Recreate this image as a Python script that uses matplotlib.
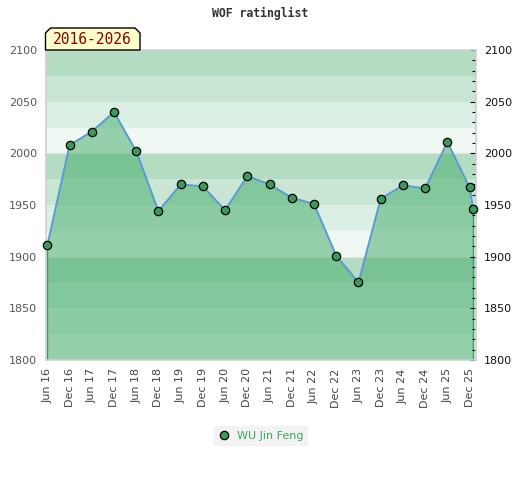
"""WOF ratinglist chart: rating history with banded background."""

import matplotlib

matplotlib.use("Agg")
import matplotlib.pyplot as plt
from matplotlib.patches import Polygon
import pandas as pd

title = "WOF ratinglist"
period = "2016-2026"
player = "WU Jin Feng"

dates = [
    "2016-06", "2016-12", "2017-06", "2017-12", "2018-06", "2018-12",
    "2019-06", "2019-12", "2020-06", "2020-12", "2021-06", "2021-12",
    "2022-06", "2022-12", "2023-06", "2023-12", "2024-06", "2024-12",
    "2025-06", "2025-12", "2026-01",
]
ratings = [
    1911, 2008, 2021, 2040, 2002, 1944, 1970, 1968, 1945, 1978, 1970,
    1957, 1951, 1901, 1875, 1956, 1969, 1966, 2011, 1967, 1946,
]
tick_dates = dates[:-1]
tick_labels = [pd.Timestamp(d).strftime("%b %y") for d in tick_dates]


def month_index(d):
    t = pd.Timestamp(d)
    return (t.year - 2016) * 12 + t.month - 6


x = [month_index(d) for d in dates]
xt = [month_index(d) for d in tick_dates]

y_min, y_max = 1800, 2100
band_colors = ["#eff8f3", "#dcefe4", "#c8e6d3", "#b3dcc2"]
fill_color = (70 / 255, 173 / 255, 107 / 255, 0.53)
marker_color = "#3a9a5b"
line_color = "#5b9bd5"

fig = plt.figure(figsize=(5.2, 4.8), dpi=100)
ax = fig.add_axes([45.5 / 520, 120 / 480, 430 / 520, 310 / 480])

# background bands, 25 points each, repeating per 100
for i, lo in enumerate(range(y_min, y_max, 25)):
    ax.axhspan(lo, lo + 25, color=band_colors[i % 4], lw=0, zorder=0)
for lvl in (1900, 2000):
    ax.axhline(lvl, color="#e4e4e4", lw=0.8, zorder=0.5)

ax.fill_between(x, ratings, y_min, facecolor=fill_color, edgecolor="none", zorder=1)
ax.vlines([x[0], x[-1]], y_min, [ratings[0], ratings[-1]], color=marker_color, lw=1, zorder=1.5)
ax.plot(x, ratings, color=line_color, lw=1.4, zorder=2)
ax.plot(x, ratings, "o", ms=6, mfc=marker_color, mec="black", mew=0.9, zorder=3,
        label=player, clip_on=False)

ax.set_xlim(-0.5, 115.6)
ax.set_ylim(y_min, y_max)

ax.set_xticks(xt)
ax.set_xticklabels(tick_labels, rotation=90, fontsize=8, color="#444444",
                   family="DejaVu Sans")
ax.tick_params(axis="x", length=0, pad=6)

ax.set_yticks(range(y_min, y_max + 1, 50))
ax.set_yticks(range(y_min, y_max + 1, 10), minor=True)
ax.tick_params(axis="y", which="both", direction="in", left=False, right=True,
               labelleft=True, labelright=True, labelsize=8, pad=6)
ax.tick_params(axis="y", which="major", length=4, width=0.8)
ax.tick_params(axis="y", which="minor", length=3, width=0.8)
for lab in ax.get_yticklabels():
    lab.set_color("#555555")
ax.yaxis.set_tick_params(labelcolor="#555555")
for t in ax.yaxis.get_major_ticks():
    t.label2.set_color("#111111")

for s in ax.spines.values():
    s.set_color("#d0d0d0")
    s.set_linewidth(1.2)

fig.text(0.5, 1 - 13 / 480, title, ha="center", va="center", fontsize=8.3,
         family="DejaVu Sans Mono", weight="bold", color="#333333")

# period label box with chamfered top corners
bx0, bx1, by0, by1, c = 45.5, 140, 50, 28, 5
pts = [(bx0, by0), (bx0, by1 + c), (bx0 + c, by1), (bx1 - c, by1), (bx1, by1 + c), (bx1, by0)]
pts = [(px / 520, 1 - py / 480) for px, py in pts]
fig.patches.append(Polygon(pts, closed=True, facecolor="#ffffcc", edgecolor="black",
                           lw=1, transform=fig.transFigure))
fig.text((bx0 + bx1) / 2 / 520, 1 - 40 / 480, period, ha="center", va="center",
         fontsize=10.5, family="DejaVu Sans Mono", color="#8b0000")

leg = fig.legend(loc="center", bbox_to_anchor=(261 / 520, 1 - 436 / 480),
                 frameon=True, fontsize=8, handletextpad=0.6, borderpad=0.45,
                 handlelength=1.0, fancybox=False)
leg.get_frame().set_facecolor("#f0f0f0")
leg.get_frame().set_edgecolor("none")
for txt in leg.get_texts():
    txt.set_color("#3aa55c")

fig.savefig("out.png", dpi=100)
